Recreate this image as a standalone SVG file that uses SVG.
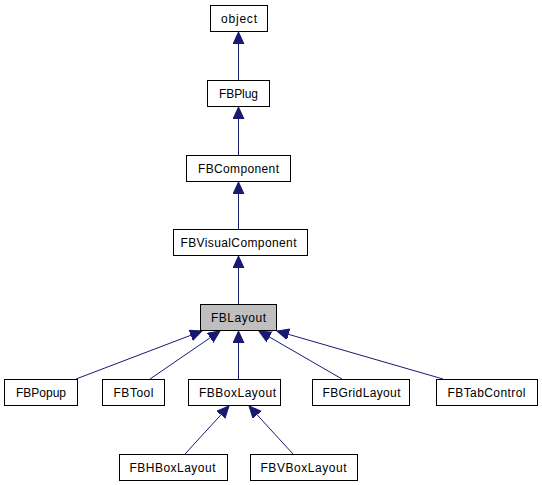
<svg xmlns="http://www.w3.org/2000/svg" width="542" height="485" viewBox="0 0 542 485">
<style>
.n rect{fill:#ffffff;stroke:#000000;stroke-width:1}
.n.cur rect{fill:#bfbfbf}
.n text{font-family:"Liberation Sans",Arial,sans-serif;font-size:12px;fill:#000000;text-anchor:middle}
.e path{fill:none;stroke:#191970;stroke-width:1}
</style>
<defs>
<marker id="ah" markerUnits="userSpaceOnUse" markerWidth="13" markerHeight="12" refX="12" refY="5.5" orient="auto">
<path d="M0,0 L12,5.5 L0,11 z" fill="#191970" stroke="#191970" stroke-width="1"/>
</marker>
</defs>
<rect width="542" height="485" fill="#ffffff"/>
<g id="connectors" class="e">
<path d="M238.5,80 L238.5,32" marker-end="url(#ah)"/>
<path d="M238.5,155 L238.5,107" marker-end="url(#ah)"/>
<path d="M238.5,229 L238.5,182" marker-end="url(#ah)"/>
<path d="M238.5,304 L238.5,256" marker-end="url(#ah)"/>
<path d="M76,379 L202,331" marker-end="url(#ah)"/>
<path d="M150,379 L220,331" marker-end="url(#ah)"/>
<path d="M238.5,379 L238.5,331" marker-end="url(#ah)"/>
<path d="M342,379 L259,331" marker-end="url(#ah)"/>
<path d="M443,379 L277,331" marker-end="url(#ah)"/>
<path d="M185,454 L229,406" marker-end="url(#ah)"/>
<path d="M293,454 L249,406" marker-end="url(#ah)"/>
</g>
<g id="object" class="n"><rect x="210.5" y="5.5" width="57" height="26"/><text x="239" y="23" textLength="36" lengthAdjust="spacing">object</text></g>
<g id="FBPlug" class="n"><rect x="207.5" y="80.5" width="62" height="26"/><text x="238.5" y="98" textLength="39" lengthAdjust="spacing">FBPlug</text></g>
<g id="FBComponent" class="n"><rect x="186.5" y="155.5" width="104" height="26"/><text x="238.5" y="173" textLength="81" lengthAdjust="spacing">FBComponent</text></g>
<g id="FBVisualComponent" class="n"><rect x="173.5" y="229.5" width="134" height="26"/><text x="238.5" y="247" textLength="116" lengthAdjust="spacing">FBVisualComponent</text></g>
<g id="FBLayout" class="n cur"><rect x="200.5" y="304.5" width="76" height="26"/><text x="238.5" y="322" textLength="55" lengthAdjust="spacing">FBLayout</text></g>
<g id="FBPopup" class="n"><rect x="4.5" y="379.5" width="73" height="26"/><text x="41" y="397" textLength="50" lengthAdjust="spacing">FBPopup</text></g>
<g id="FBTool" class="n"><rect x="102.5" y="379.5" width="62" height="26"/><text x="133.5" y="397" textLength="40" lengthAdjust="spacing">FBTool</text></g>
<g id="FBBoxLayout" class="n"><rect x="188.5" y="379.5" width="92" height="26"/><text x="237.5" y="397" textLength="77" lengthAdjust="spacing">FBBoxLayout</text></g>
<g id="FBGridLayout" class="n"><rect x="312.5" y="379.5" width="97" height="26"/><text x="361.5" y="397" textLength="78" lengthAdjust="spacing">FBGridLayout</text></g>
<g id="FBTabControl" class="n"><rect x="436.5" y="379.5" width="101" height="26"/><text x="486.5" y="397" textLength="78" lengthAdjust="spacing">FBTabControl</text></g>
<g id="FBHBoxLayout" class="n"><rect x="119.5" y="454.5" width="108" height="26"/><text x="172.5" y="472" textLength="86" lengthAdjust="spacing">FBHBoxLayout</text></g>
<g id="FBVBoxLayout" class="n"><rect x="250.5" y="454.5" width="107" height="26"/><text x="303.5" y="472" textLength="86" lengthAdjust="spacing">FBVBoxLayout</text></g>
</svg>
